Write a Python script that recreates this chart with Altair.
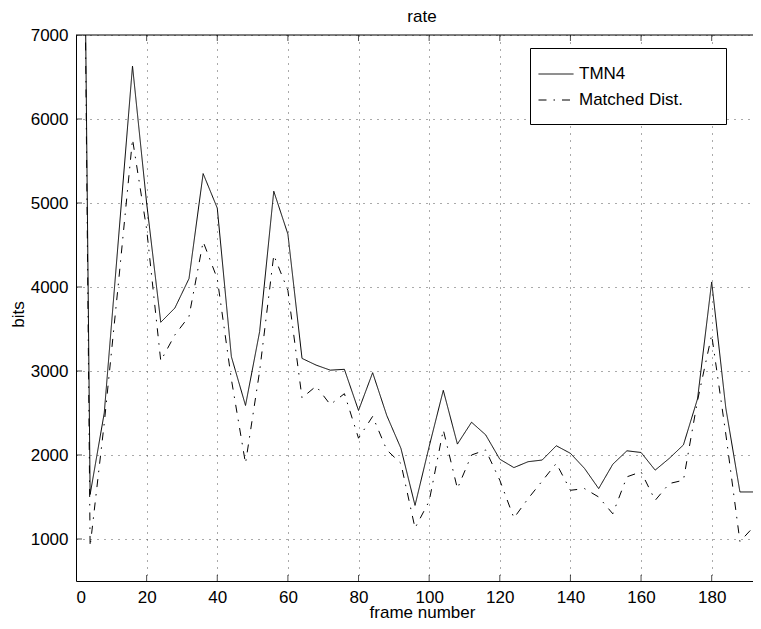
import altair as alt
import pandas as pd

# ---- data ----
frames = list(range(0, 200, 4))
tmn4 = [19000, 1530, 2500, 4560, 6630, 5000, 3580, 3750, 4100, 5350,
        4940, 3170, 2590, 3470, 5140, 4630, 3150, 3070, 3010, 3020,
        2530, 2980, 2470, 2080, 1400, 2100, 2770, 2130, 2390, 2240,
        1950, 1850, 1920, 1940, 2110, 2020, 1840, 1600, 1890, 2050,
        2030, 1820, 1960, 2120, 2670, 4060, 2560, 1560, 1560, 1980]
matched = [19500, 910, 2380, 4040, 5760, 4690, 3120, 3430, 3650, 4540,
           4100, 2900, 1900, 3000, 4380, 3960, 2680, 2820, 2600, 2730,
           2200, 2460, 2060, 1900, 1130, 1450, 2300, 1600, 2000, 2060,
           1700, 1250, 1480, 1690, 1900, 1580, 1600, 1500, 1300, 1740,
           1800, 1460, 1660, 1700, 2650, 3430, 2250, 970, 1150, 1680]
series_names = ["TMN4", "Matched Dist."]
x_ticks = [0, 20, 40, 60, 80, 100, 120, 140, 160, 180]
y_ticks = [1000, 2000, 3000, 4000, 5000, 6000, 7000]
x_domain = [0, 191.7]
y_domain = [500, 7000]
chart_title = "rate"

FONT = "Liberation Sans"

df = pd.DataFrame({
    "frame": frames + frames,
    "bits": tmn4 + matched,
    "series": [series_names[0]] * len(frames) + [series_names[1]] * len(frames),
})
xt = pd.DataFrame({"frame": x_ticks})
yt = pd.DataFrame({"bits": y_ticks})
top = pd.DataFrame({"bits": [y_domain[1]]})
title_df = pd.DataFrame({"t": [chart_title]})

x_scale = alt.Scale(domain=x_domain, nice=False, zero=False)
y_scale = alt.Scale(domain=y_domain, nice=False, zero=False)

lines = alt.Chart(df).mark_line(clip=True, color="black", strokeWidth=1).encode(
    x=alt.X("frame:Q", scale=x_scale,
            axis=alt.Axis(values=x_ticks, title="frame number", labelPadding=8,
                          titleX=346, titleY=36, titleBaseline="alphabetic",
                          titleAlign="center")),
    y=alt.Y("bits:Q", scale=y_scale,
            axis=alt.Axis(values=y_ticks, title="bits", labelPadding=8, format="d",
                          titleX=-53, titleY=279, titleBaseline="alphabetic",
                          titleAlign="center", titleAngle=270)),
    strokeDash=alt.StrokeDash(
        "series:N",
        scale=alt.Scale(domain=series_names, range=[[1, 0], [8, 7, 1.5, 7]]),
        legend=alt.Legend(
            title="\u00a0", titleOrient="right", titlePadding=35, titleFontSize=61,
            titleBaseline="top", titleAnchor="start",
            orient="none", legendX=454, legendY=13,
            symbolType="stroke", symbolSize=1225, symbolStrokeWidth=1,
            symbolStrokeColor="black", labelFontSize=17, labelFont=FONT,
            labelColor="black", labelOffset=5, padding=8, rowPadding=-10,
            fillColor="white", strokeColor="black", labelLimit=0,
        ),
    ),
)

ticks_bottom = alt.Chart(xt).mark_tick(orient="vertical", size=12, thickness=1,
                                        color="black", clip=True).encode(
    x=alt.X("frame:Q", scale=x_scale), y=alt.datum(y_domain[0]))
ticks_top = alt.Chart(xt).mark_tick(orient="vertical", size=12, thickness=1,
                                     color="black", clip=True).encode(
    x=alt.X("frame:Q", scale=x_scale), y=alt.datum(y_domain[1]))
ticks_left = alt.Chart(yt).mark_tick(orient="horizontal", size=12, thickness=1,
                                      color="black", clip=True).encode(
    y=alt.Y("bits:Q", scale=y_scale), x=alt.datum(x_domain[0]))
top_border = alt.Chart(top).mark_rule(color="black", strokeWidth=1).encode(
    y=alt.Y("bits:Q", scale=y_scale))
title_text = alt.Chart(title_df).mark_text(
    font=FONT, fontSize=17, color="black", align="center", baseline="alphabetic"
).encode(text="t:N", x=alt.value(346), y=alt.value(-13))

chart = alt.layer(lines, ticks_bottom, ticks_top, ticks_left, top_border,
                  title_text).properties(
    width=677, height=546,
    padding={"left": 68, "top": 27, "right": 0, "bottom": 39},
    autosize=alt.AutoSizeParams(type="none"),
).configure(font=FONT).configure_view(stroke=None).configure_axis(
    domainColor="black", domainWidth=1, ticks=False, tickSize=0,
    grid=True, gridDash=[1, 6], gridColor="#555", gridWidth=1,
    labelFont=FONT, labelFontSize=17, labelColor="black",
    titleFont=FONT, titleFontSize=17, titleFontWeight="normal", titleColor="black",
)

chart.save("out.html", embed_options={"renderer": "svg", "actions": False})
